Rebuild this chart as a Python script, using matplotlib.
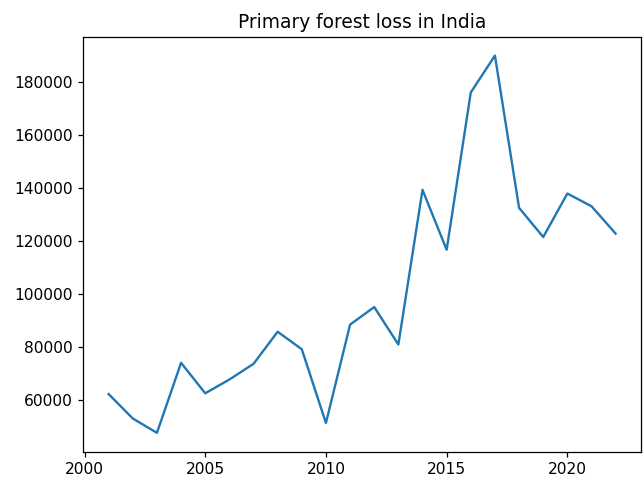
import matplotlib
matplotlib.use("Agg")
import matplotlib.pyplot as plt

years = list(range(2001, 2023))
loss = [62300, 53100, 47700, 74100, 62600, 67800, 73700, 85800, 79200, 51400,
        88500, 95100, 81000, 139300, 116700, 176000, 189900, 132500, 121500,
        137900, 133100, 122800]

fig = plt.figure(figsize=(6.44, 4.8), dpi=100)
ax = fig.add_axes([83.3/644, (480-451.7)/480, (641-83.3)/644, (451.7-36.7)/480])
ax.plot(years, loss, color="#1f77b4", lw=1.7)
ax.set_title("Primary forest loss in India", fontsize=13.4, pad=6.5)
ax.tick_params(labelsize=11.2, length=3.9, width=0.9)
for s in ax.spines.values():
    s.set_linewidth(0.9)
fig.savefig("out.png", dpi=100)
